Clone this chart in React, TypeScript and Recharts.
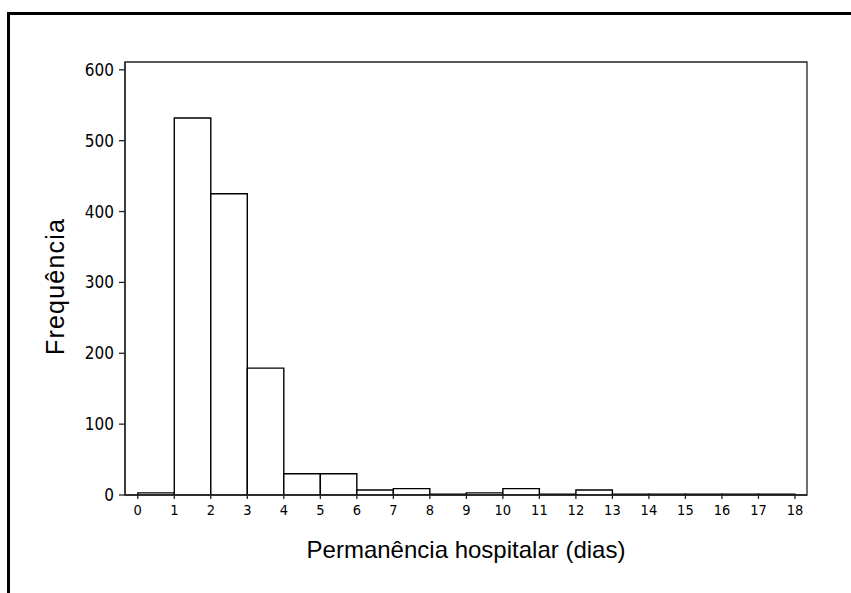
import { BarChart, Bar, XAxis, YAxis, ReferenceArea } from 'recharts'

// histogram bins (lower edge, width 1 day) and their counts
const BIN_START = [0, 1, 2, 3, 4, 5, 6, 7, 8, 9, 10, 11, 12, 13, 14, 15, 16, 17]
const COUNTS = [3, 532, 425, 179, 30, 30, 7, 9, 1, 3, 9, 1, 7, 1, 1, 1, 1, 1]

const X_TICKS = [0, 1, 2, 3, 4, 5, 6, 7, 8, 9, 10, 11, 12, 13, 14, 15, 16, 17, 18]
const Y_TICKS = [0, 100, 200, 300, 400, 500, 600]

const X_TITLE = 'Permanência hospitalar (dias)'
const Y_TITLE = 'Frequência'

const data = BIN_START.map((start, i) => ({ mid: start + 0.5, count: COUNTS[i] }))

const tickFont = "'DejaVu Sans Condensed', 'DejaVu Sans', sans-serif"
const titleFont = "'Liberation Sans', Arial, sans-serif"

const X_DOMAIN: [number, number] = [-0.35, 18.33]
const Y_DOMAIN: [number, number] = [0, 611]

function YTitle(props: any) {
  const vb = props.viewBox || { x: 65, y: 62, width: 60, height: 433 }
  const x = vb.x - 1
  const y = vb.y + vb.height / 2 + 8
  return (
    <text
      x={x}
      y={y}
      transform={`rotate(-90 ${x} ${y})`}
      textAnchor="middle"
      fontFamily={titleFont}
      fontSize={25}
      letterSpacing={1.2}
      fill="#000"
    >
      {Y_TITLE}
    </text>
  )
}

export default function App() {
  return (
    <div style={{ position: 'absolute', left: 0, top: 0, width: 851, height: 593, background: '#fff', overflow: 'hidden' }}>
      <div
        style={{
          position: 'absolute',
          left: 7,
          top: 12,
          width: 850,
          height: 600,
          borderTop: '3px solid #000',
          borderLeft: '3px solid #000',
        }}
      />
      <div style={{ position: 'absolute', left: 0, top: 0 }}>
        <BarChart
          width={851}
          height={593}
          data={data}
          margin={{ top: 62, right: 44, bottom: 68, left: 65 }}
          barCategoryGap={0}
          barGap={0}
        >
          <XAxis
            dataKey="mid"
            type="number"
            domain={X_DOMAIN}
            allowDataOverflow
            ticks={X_TICKS}
            interval={0}
            height={30}
            tickSize={4}
            tickMargin={6}
            stroke="#222"
            strokeWidth={1.3}
            tick={{ fill: '#000', fontSize: 14.5, fontFamily: tickFont }}
            label={{
              value: X_TITLE,
              position: 'bottom',
              offset: 16,
              fill: '#000',
              fontSize: 24,
              fontFamily: titleFont,
            }}
          />
          <YAxis
            domain={Y_DOMAIN}
            allowDataOverflow
            ticks={Y_TICKS}
            width={60}
            tickSize={6}
            tickMargin={5}
            stroke="#222"
            strokeWidth={1.3}
            tick={{ fill: '#000', fontSize: 17, fontFamily: tickFont }}
            label={{ content: YTitle }}
          />
          {/* plot frame */}
          <ReferenceArea
            x1={X_DOMAIN[0]}
            x2={X_DOMAIN[1]}
            y1={Y_DOMAIN[0]}
            y2={Y_DOMAIN[1]}
            fill="none"
            fillOpacity={0}
            stroke="#222"
            strokeWidth={1.3}
            ifOverflow="visible"
          />
          <Bar
            dataKey="count"
            fill="#fff"
            stroke="#000"
            strokeWidth={1.4}
            barSize={36.5}
            isAnimationActive={false}
          />
        </BarChart>
      </div>
    </div>
  )
}
